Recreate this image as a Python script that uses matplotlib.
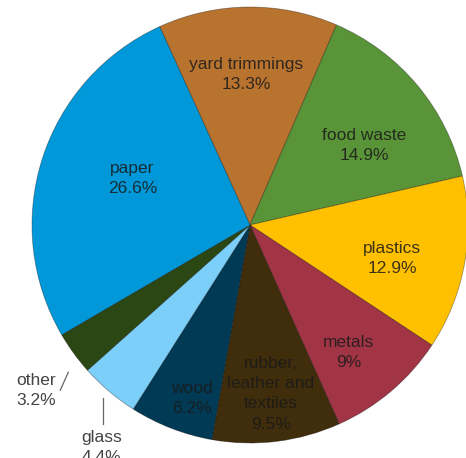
import numpy as np
import matplotlib.pyplot as plt

plt.rcParams['font.family'] = ['Liberation Sans', 'DejaVu Sans']

# waste categories, clockwise from the top
labels = ['yard trimmings', 'food waste', 'plastics', 'metals',
          'rubber,\nleather and\ntextiles', 'wood', 'glass', 'other', 'paper']
shares = [13.3, 14.9, 12.9, 9, 9.5, 6.2, 4.4, 3.2, 26.6]
pct_text = ['13.3%', '14.9%', '12.9%', '9%', '9.5%', '6.2%', '4.4%', '3.2%', '26.6%']
colors = ['#B8732F', '#5A9438', '#FFC000', '#A13545', '#3F2D0B',
          '#003A55', '#7CCFF9', '#2B4814', '#0098D8']
outside = {'glass', 'other'}
# inside label placement: (fraction of radius, clockwise shift from mid-angle in degrees)
label_pos = {'yard trimmings': (0.69, -1), 'food waste': (0.64, 5), 'plastics': (0.67, 3),
             'metals': (0.74, 2.6), 'rubber,\nleather and\ntextiles': (0.78, 0),
             'wood': (0.84, -2.8), 'paper': (0.58, 4)}

fig = plt.figure(figsize=(4.66, 4.58), dpi=100)
ax = fig.add_axes([0, 0, 1, 1])

start = 114.5
wedges, _ = ax.pie(shares, colors=colors, startangle=start, counterclock=False,
                   radius=1, center=(0, 0),
                   wedgeprops=dict(edgecolor=(0, 0, 0, 0.35), linewidth=0.6))

fs = 12.5
ls = 1.45
txt_col = (0.1, 0.1, 0.1, 0.85)
for w, lab, pct in zip(wedges, labels, pct_text):
    if lab in outside:
        continue
    r, shift = label_pos[lab]
    mid = np.deg2rad((w.theta1 + w.theta2) / 2 - shift)
    ax.text(r * np.cos(mid), r * np.sin(mid), lab + '\n' + pct, ha='center', va='center',
            fontsize=fs, color=txt_col, linespacing=ls)

# outside labels with leader lines
for w, lab, pct in zip(wedges, labels, pct_text):
    if lab not in outside:
        continue
    mid = np.deg2rad((w.theta1 + w.theta2) / 2)
    if lab == 'other':
        x0, y0 = 1.07 * np.cos(mid) + 0.032, 1.07 * np.sin(mid) - 0.046
        x1, y1 = x0 - 0.037, y0 - 0.083
        ax.plot([x0, x1], [y0, y1], color='#666666', lw=0.9)
        ax.text(x1 - 0.02, y1 + 0.0, lab + '\n' + pct, ha='right', va='center',
                fontsize=fs, color='#444444', linespacing=ls)
    else:
        x0, y0 = 1.04 * np.cos(mid), 1.04 * np.sin(mid)
        x1, y1 = x0, y0 - 0.12
        ax.plot([x0, x1], [y0, y1], color='#666666', lw=0.9)
        ax.text(x1 - 0.01, y1 - 0.025, lab + '\n' + pct, ha='center', va='top',
                fontsize=fs, color='#444444', linespacing=ls)

ax.set_xlim(-250 / 218, 216 / 218)
ax.set_ylim(-233 / 218, 225 / 218)
ax.set_aspect('auto')
ax.axis('off')

fig.savefig('out.png', dpi=100)
